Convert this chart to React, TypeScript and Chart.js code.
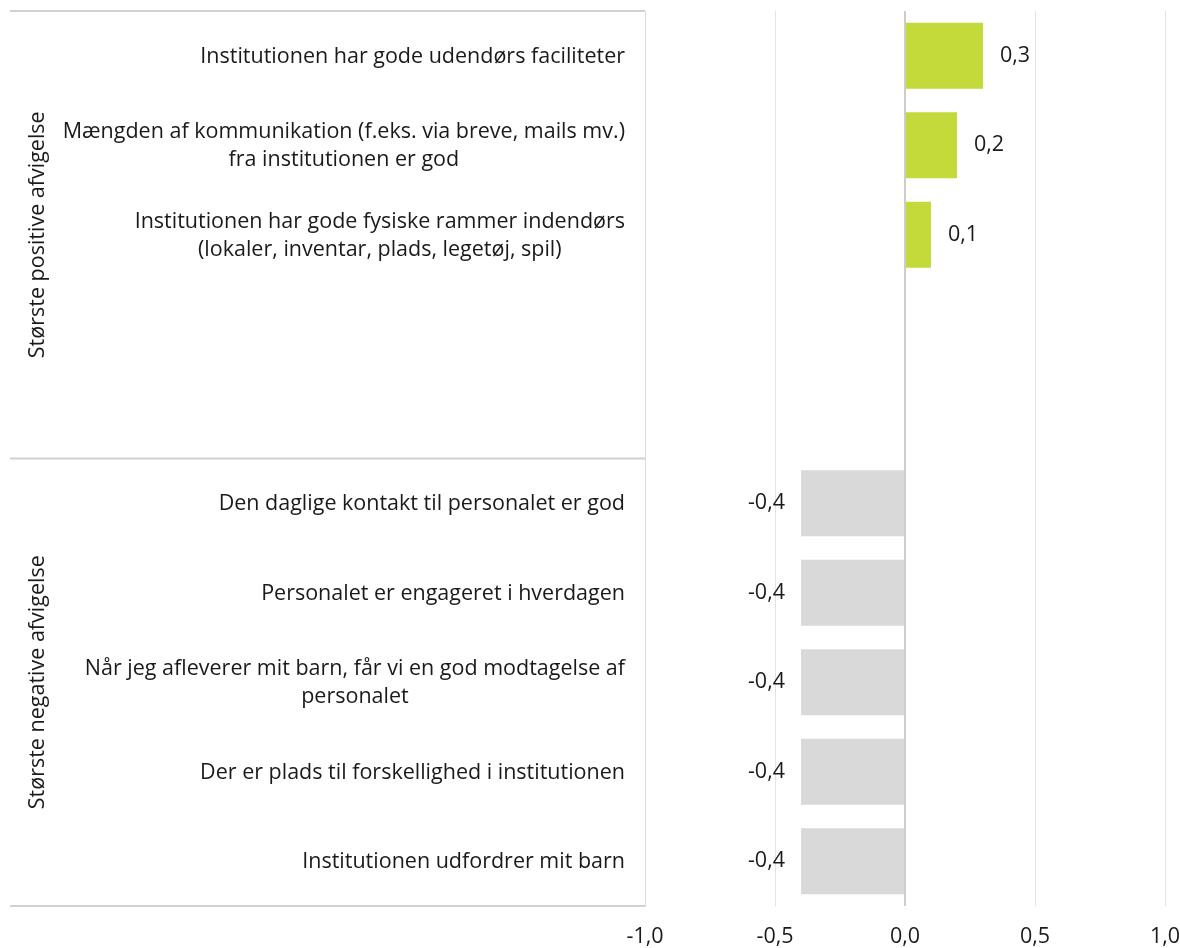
import React, { useEffect, useRef } from "react";
import { Chart, registerables } from "chart.js";

Chart.register(...registerables);

const categories: string[][] = [
  ["Institutionen har gode udendørs faciliteter"],
  ["Mængden af kommunikation (f.eks. via breve, mails mv.)", "fra institutionen er god"],
  ["Institutionen har gode fysiske rammer indendørs", "(lokaler, inventar, plads, legetøj, spil)"],
  [""],
  [""],
  ["Den daglige kontakt til personalet er god"],
  ["Personalet er engageret i hverdagen"],
  ["Når jeg afleverer mit barn, får vi en god modtagelse af", "personalet"],
  ["Der er plads til forskellighed i institutionen"],
  ["Institutionen udfordrer mit barn"],
];

const values: (number | null)[] = [0.3, 0.2, 0.1, null, null, -0.4, -0.4, -0.4, -0.4, -0.4];

const groupLabels = ["Største positive afvigelse", "Største negative afvigelse"];
const groupStarts = [0, 5];
const groupEnds = [4, 9];

const xMin = -1;
const xMax = 1;
const xStep = 0.5;

const FONT = "'Open Sans', sans-serif";
const FSIZE = 21.5;
const TEXT = "#1a1a1a";
const GREEN = "#c4d93a";
const GRAY = "#d9d9d9";
const LINE = "#d3d1ca";

const fmt = (v: number) => v.toFixed(1).replace(".", ",").replace("-0,0", "0,0");

const decorPlugin = {
  id: "decor",
  afterDraw(chart: any) {
    const ctx = chart.ctx as CanvasRenderingContext2D;
    const area = chart.chartArea;
    const ys = chart.scales.y;
    ctx.save();
    ctx.font = `${FSIZE}px ${FONT}`;
    ctx.fillStyle = TEXT;
    ctx.textAlign = "center";
    ctx.textBaseline = "middle";
    const lineH = 28;
    (chart.data.labels as string[][]).forEach((lines, i) => {
      const cy = ys.getPixelForValue(i) + 1;
      const w = Math.max(...lines.map((l) => ctx.measureText(l).width));
      const cx = area.left - 20 - w / 2;
      lines.forEach((l, j) => {
        ctx.fillText(l, cx, cy + (j - (lines.length - 1) / 2) * lineH);
      });
    });
    ctx.strokeStyle = LINE;
    ctx.lineWidth = 2;
    const bounds = [area.top];
    groupEnds.forEach((e, gi) => {
      if (gi < groupEnds.length - 1) {
        bounds.push((ys.getPixelForValue(e) + ys.getPixelForValue(groupStarts[gi + 1])) / 2);
      }
    });
    bounds.push(area.bottom);
    bounds.forEach((b) => {
      ctx.beginPath();
      ctx.moveTo(10, b);
      ctx.lineTo(area.left, b);
      ctx.stroke();
    });
    groupLabels.forEach((g, gi) => {
      const top = bounds[gi];
      const bot = bounds[gi + 1];
      ctx.save();
      ctx.translate(38, (top + bot) / 2);
      ctx.rotate(-Math.PI / 2);
      ctx.textAlign = "center";
      ctx.textBaseline = "middle";
      ctx.fillStyle = TEXT;
      ctx.font = `${FSIZE}px ${FONT}`;
      ctx.fillText(g, 0, 0);
      ctx.restore();
    });
    const meta = chart.getDatasetMeta(0);
    ctx.font = `${FSIZE}px ${FONT}`;
    ctx.textBaseline = "middle";
    meta.data.forEach((bar: any, i: number) => {
      const v = chart.data.datasets[0].data[i];
      if (v === null || v === undefined) return;
      if (v >= 0) {
        ctx.textAlign = "left";
        ctx.fillText(fmt(v), bar.x + 17, bar.y);
      } else {
        ctx.textAlign = "right";
        ctx.fillText(fmt(v), bar.x - 16, bar.y);
      }
    });
    ctx.restore();
  },
};

export default function App() {
  const ref = useRef<HTMLCanvasElement | null>(null);
  useEffect(() => {
    if (!ref.current) return;
    const chart = new Chart(ref.current, {
      type: "bar",
      data: {
        labels: categories as any,
        datasets: [
          {
            data: values as any,
            backgroundColor: values.map((v) => ((v ?? 0) >= 0 ? GREEN : GRAY)),
            categoryPercentage: 1,
            barPercentage: 0.74,
          },
        ],
      },
      options: {
        indexAxis: "y",
        animation: false,
        responsive: true,
        maintainAspectRatio: false,
        layout: { padding: { top: 11, right: 15, left: 0, bottom: 0 } },
        plugins: { legend: { display: false }, tooltip: { enabled: false } },
        scales: {
          x: {
            type: "linear",
            min: xMin,
            max: xMax,
            ticks: {
              stepSize: xStep,
              padding: 18,
              color: TEXT,
              font: { family: FONT, size: FSIZE },
              callback: (v: any) => fmt(Number(v)),
            },
            grid: {
              drawTicks: false,
              color: (c: any) => (c.tick && c.tick.value === 0 ? "#cfcdc5" : "#e3e3e3"),
              lineWidth: (c: any) => (c.tick && c.tick.value === 0 ? 2 : 1),
            },
            border: { display: false },
            afterFit: (s: any) => {
              s.height = 42;
              s.paddingLeft = 0;
              s.paddingRight = 0;
            },
          },
          y: {
            type: "category",
            ticks: { display: false },
            grid: { display: false },
            border: { display: true, color: "#dcdcdc", width: 1 },
            afterFit: (s: any) => {
              s.width = 645;
            },
          },
        },
      },
      plugins: [decorPlugin],
    });
    return () => chart.destroy();
  }, []);
  return (
    <div style={{ position: "fixed", left: 0, top: 0, width: 1180, height: 948, background: "#fff" }}>
      <canvas ref={ref} />
    </div>
  );
}
